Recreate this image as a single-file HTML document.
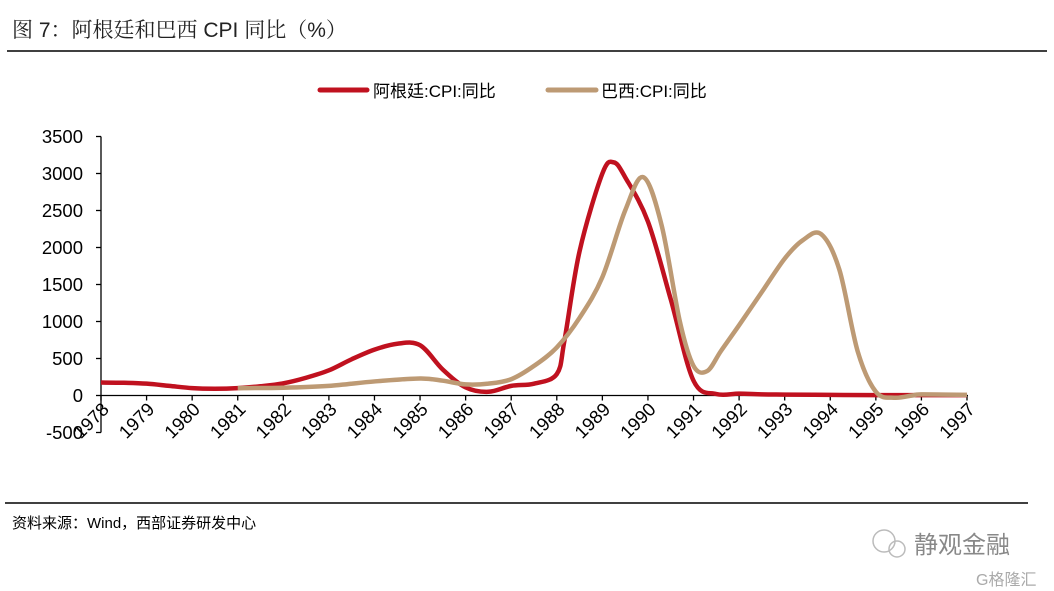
<!DOCTYPE html>
<html><head><meta charset="utf-8"><style>
body{margin:0;background:#fff;width:1054px;height:591px;overflow:hidden;font-family:"Liberation Sans","Noto Sans CJK SC",sans-serif;}
svg{position:absolute;left:0;top:0}
</style></head><body>
<svg id="c" width="1054" height="591">
<text x="12" y="37" font-size="21" fill="#222" font-family="Liberation Sans, Noto Serif CJK SC, serif">图 7：阿根廷和巴西 CPI 同比（%）</text>
<line x1="7" y1="51" x2="1047" y2="51" stroke="#000" stroke-width="1.5"/>
<line x1="5" y1="503" x2="1028" y2="503" stroke="#000" stroke-width="1.5"/>
<g>
<line x1="320" y1="90" x2="367" y2="90" stroke="#C0111F" stroke-width="5" stroke-linecap="round"/>
<text x="373" y="97" font-size="17" fill="#000">阿根廷:CPI:同比</text>
<line x1="548" y1="90" x2="596" y2="90" stroke="#BD9A74" stroke-width="5" stroke-linecap="round"/>
<text x="601" y="97" font-size="17" fill="#000">巴西:CPI:同比</text>
</g>
<g id="axes"></g>
<g id="series"></g>
<text x="12" y="528" font-size="15" fill="#000">资料来源：Wind，西部证券研发中心</text>
<g>
<circle cx="884" cy="541" r="11" fill="none" stroke="#bbb" stroke-width="1.5"/>
<circle cx="897" cy="549" r="8" fill="none" stroke="#bbb" stroke-width="1.5"/>
<text x="914" y="553" font-size="24" fill="#888">静观金融</text>
<text x="976" y="585" font-size="16" fill="#aaa">G格隆汇</text>
</g>
</svg>
<script>
const yTicks=[3500,3000,2500,2000,1500,1000,500,0,-500];
const years=[1978,1979,1980,1981,1982,1983,1984,1985,1986,1987,1988,1989,1990,1991,1992,1993,1994,1995,1996,1997];
const argX=[1978,1978.5,1979,1979.5,1980,1980.5,1981,1981.5,1982,1982.5,1983,1983.5,1984,1984.5,1985,1985.5,1986,1986.5,1987,1987.5,1988,1988.17,1988.5,1989,1989.25,1989.5,1990,1990.5,1991,1991.5,1992,1992.5,1993,1994,1995,1996,1997];
const argV=[175,172,160,130,100,92,100,125,165,240,340,490,620,700,680,350,110,50,130,160,290,750,1950,3000,3150,2950,2350,1300,200,20,25,15,12,8,5,5,5];
const braX=[1981,1982,1983,1984,1985,1985.5,1986,1986.5,1987,1987.5,1988,1988.5,1989,1989.5,1989.9,1990.3,1990.7,1991,1991.3,1991.6,1992,1992.5,1993,1993.4,1993.8,1994.2,1994.6,1995,1995.4,1995.8,1996,1997];
const braV=[100,105,130,190,230,200,150,160,220,400,650,1050,1600,2500,2950,2300,1000,400,330,600,950,1400,1850,2100,2180,1700,600,50,-30,0,15,8];
const X0=101,X1=967,Y0=395.5,YS=259/3500;
const xs=y=>X0+(y-1978)*(X1-X0)/19;
const ys=v=>Y0-v*YS;
const NS="http://www.w3.org/2000/svg";
const ax=document.getElementById('axes'),se=document.getElementById('series');
function mk(t,a,p){const e=document.createElementNS(NS,t);for(const k in a)e.setAttribute(k,a[k]);p.appendChild(e);return e;}
const yAxis=mk('line',{x1:X0,y1:ys(3500),x2:X0,y2:ys(-500),stroke:'#000','stroke-width':1.3},ax);


const xAxis=mk('line',{x1:X0,y1:Y0,x2:X1+1,y2:Y0,stroke:'#000','stroke-width':1.3},ax);


yTicks.forEach(v=>{
 mk('line',{x1:X0-5,y1:ys(v),x2:X0,y2:ys(v),stroke:'#000','stroke-width':1.3},ax);
 const t=mk('text',{x:X0-18,y:ys(v)+6.5,'text-anchor':'end','font-size':18.5,fill:'#000'},ax);
 t.textContent=v;
 
 
});
years.forEach(yr=>{
 const x=xs(yr);
 mk('line',{x1:x,y1:Y0,x2:x,y2:Y0+5,stroke:'#000','stroke-width':1.3},ax);
 const t=mk('text',{x:x+9,y:Y0+15,'text-anchor':'end','font-size':18.5,fill:'#000',transform:`rotate(-45 ${x+9} ${Y0+15})`},ax);
 t.textContent=yr;
 
 
});
function path(X,V){
 const p=X.map((x,i)=>[xs(x),ys(V[i])]);
 let d=`M${p[0][0]},${p[0][1]}`;
 for(let i=0;i<p.length-1;i++){
  const a=p[i-1]||p[i],b=p[i],c=p[i+1],e=p[i+2]||c;
  d+=`C${b[0]+(c[0]-a[0])/6},${b[1]+(c[1]-a[1])/6} ${c[0]-(e[0]-b[0])/6},${c[1]-(e[1]-b[1])/6} ${c[0]},${c[1]}`;
 }
 return d;
}
const pa=mk('path',{d:path(argX,argV),fill:'none',stroke:'#C0111F','stroke-width':4.5,'stroke-linejoin':'round'},se);


const pb=mk('path',{d:path(braX,braV),fill:'none',stroke:'#BD9A74','stroke-width':4.5,'stroke-linejoin':'round'},se);


</script>
</body></html>
